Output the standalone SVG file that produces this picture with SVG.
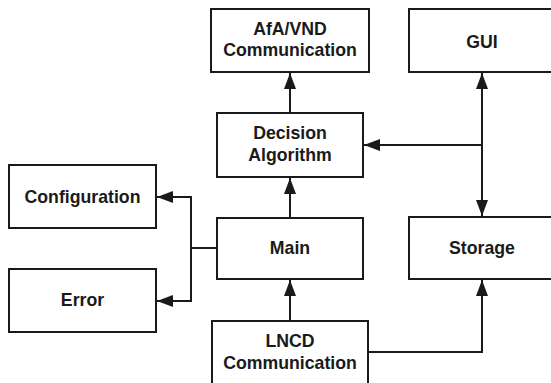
<svg xmlns="http://www.w3.org/2000/svg" width="551" height="383" viewBox="0 0 551 383">
<style>
.box{fill:#fff;stroke:#1a1a1a;stroke-width:2}
.lbl{font-family:"Liberation Sans",Arial,sans-serif;font-weight:bold;font-size:17.7px;fill:#1a1a1a;text-anchor:middle}
.ln{fill:none;stroke:#1a1a1a;stroke-width:2}
</style>
<defs>
<marker id="ah" markerUnits="userSpaceOnUse" markerWidth="16" markerHeight="12" viewBox="0 0 16 12" refX="16" refY="6" orient="auto">
<path d="M0,0 L16,6 L0,12 Z" fill="#1a1a1a"/>
</marker>
</defs>
<rect width="551" height="383" fill="#fff"/>
<g id="connectors">
<path class="ln" d="M290,113 V73" marker-end="url(#ah)"/>
<path class="ln" d="M290,218 V178" marker-end="url(#ah)"/>
<path class="ln" d="M290,321 V280" marker-end="url(#ah)"/>
<path class="ln" d="M482,145 V73" marker-end="url(#ah)"/>
<path class="ln" d="M482,145 V216" marker-end="url(#ah)"/>
<path class="ln" d="M482,145 H364" marker-end="url(#ah)"/>
<path class="ln" d="M217,248 H191"/>
<path class="ln" d="M191,248 V197 H157" marker-end="url(#ah)"/>
<path class="ln" d="M191,248 V301 H157" marker-end="url(#ah)"/>
<path class="ln" d="M368,352 H482 V280" marker-end="url(#ah)"/>
</g>
<g id="afa"><rect class="box" x="211" y="9" width="158" height="63"/><text class="lbl" x="290" y="35">AfA/VND</text><text class="lbl" x="290" y="56">Communication</text></g>
<g id="gui"><rect class="box" x="409" y="9" width="150" height="63"/><text class="lbl" x="482" y="48">GUI</text></g>
<g id="decision"><rect class="box" x="217" y="113" width="146" height="64"/><text class="lbl" x="290" y="139">Decision</text><text class="lbl" x="290" y="161">Algorithm</text></g>
<g id="configuration"><rect class="box" x="9" y="165" width="147" height="63"/><text class="lbl" x="82.5" y="203">Configuration</text></g>
<g id="main"><rect class="box" x="217" y="218" width="146" height="61"/><text class="lbl" x="290" y="254">Main</text></g>
<g id="storage"><rect class="box" x="409" y="217" width="150" height="62"/><text class="lbl" x="482" y="254">Storage</text></g>
<g id="error"><rect class="box" x="9" y="269" width="147" height="63"/><text class="lbl" x="82.5" y="306">Error</text></g>
<g id="lncd"><rect class="box" x="212" y="321" width="156" height="70"/><text class="lbl" x="290" y="347">LNCD</text><text class="lbl" x="290" y="369">Communication</text></g>
</svg>
